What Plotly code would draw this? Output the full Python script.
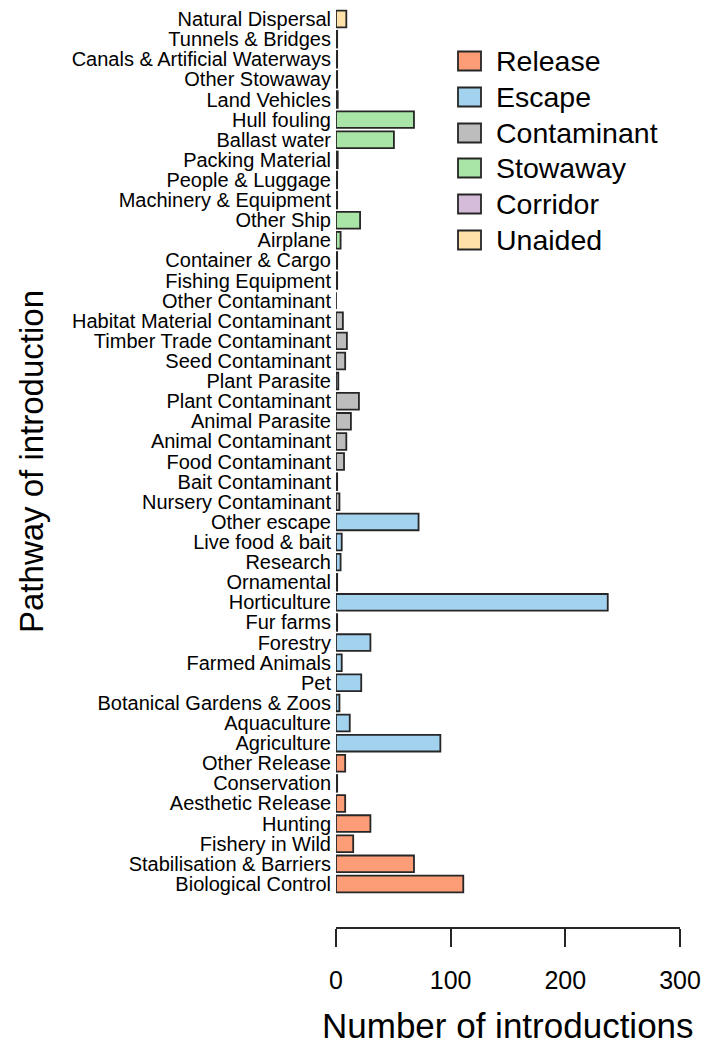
import plotly.graph_objects as go

# Categories listed from bottom to top, with their group and value
release_cats = ["Biological Control", "Stabilisation & Barriers", "Fishery in Wild", "Hunting",
                "Aesthetic Release", "Conservation", "Other Release"]
release_vals = [111, 68, 15, 30, 8, 1, 8]

escape_cats = ["Agriculture", "Aquaculture", "Botanical Gardens & Zoos", "Pet", "Farmed Animals",
               "Forestry", "Fur farms", "Horticulture", "Ornamental", "Research",
               "Live food & bait", "Other escape"]
escape_vals = [91, 12, 3, 22, 5, 30, 1, 237, 1, 4, 5, 72]

contaminant_cats = ["Nursery Contaminant", "Bait Contaminant", "Food Contaminant",
                    "Animal Contaminant", "Animal Parasite", "Plant Contaminant", "Plant Parasite",
                    "Seed Contaminant", "Timber Trade Contaminant", "Habitat Material Contaminant",
                    "Other Contaminant"]
contaminant_vals = [3, 1, 7, 9, 13, 20, 2, 8, 9.5, 6, 0]

stowaway_cats = ["Fishing Equipment", "Container & Cargo", "Airplane", "Other Ship",
                 "Machinery & Equipment", "People & Luggage", "Packing Material", "Ballast water",
                 "Hull fouling", "Land Vehicles", "Other Stowaway"]
stowaway_vals = [1, 1, 4, 21, 1, 1, 1.5, 50.5, 68, 1.5, 1]

corridor_cats = ["Canals & Artificial Waterways", "Tunnels & Bridges"]
corridor_vals = [1, 1]

unaided_cats = ["Natural Dispersal"]
unaided_vals = [9]

group_names = ["Release", "Escape", "Contaminant", "Stowaway", "Corridor", "Unaided"]
group_colors = ["#FC9D78", "#A3D2EF", "#BDBDBD", "#A9E5A6", "#D5BCDB", "#FDE1A9"]

groups = [
    (release_cats, release_vals),
    (escape_cats, escape_vals),
    (contaminant_cats, contaminant_vals),
    (stowaway_cats, stowaway_vals),
    (corridor_cats, corridor_vals),
    (unaided_cats, unaided_vals),
]

x_ticks = [0, 100, 200, 300]

FONT = "Liberation Sans, Arial, sans-serif"

all_cats = []
for cats, _ in groups:
    all_cats += cats

fig = go.Figure()
for (cats, vals), name, col in zip(groups, group_names, group_colors):
    fig.add_trace(go.Bar(
        y=cats, x=vals, orientation="h", name=name,
        marker=dict(color=col, line=dict(color="#262626", width=1.8)),
        width=0.83, cliponaxis=False, showlegend=False,
    ))

# page geometry (pixels); body margin is removed in the page so figure starts at 0,0
W, H = 706, 1051
PLOT_L, PLOT_R, PLOT_T, AXIS_Y, BARS_B = 336, 680, 9, 928, 894
L = PLOT_L
R = W - PLOT_R
T = PLOT_T
B = H - AXIS_Y
pw, ph = W - L - R, H - T - B


def px_x(px):
    return (px - PLOT_L) / pw


def px_y(py):
    return (AXIS_Y - py) / ph


# manual legend drawn in paper coordinates
row_centers = [61, 97, 133, 168, 204, 240]
shapes = []
annotations = []
for name, col, cy in zip(group_names, group_colors, row_centers):
    shapes.append(dict(type="rect", xref="paper", yref="paper",
                       x0=px_x(458), x1=px_x(481), y0=px_y(cy + 9.5), y1=px_y(cy - 9.5),
                       fillcolor=col, line=dict(color="#262626", width=1.8)))
    annotations.append(dict(xref="paper", yref="paper", x=px_x(494), y=px_y(cy),
                            xanchor="left", yanchor="middle", text=name, showarrow=False,
                            font=dict(family=FONT, size=28.5, color="black")))

annotations.append(dict(xref="paper", yref="paper", x=px_x(508), y=px_y(1025),
                        xanchor="center", yanchor="middle", text="Number of introductions",
                        showarrow=False, font=dict(family=FONT, size=35, color="black")))
annotations.append(dict(xref="paper", yref="paper", x=px_x(31), y=px_y(462),
                        xanchor="center", yanchor="middle", text="Pathway of introduction",
                        textangle=-90, showarrow=False,
                        font=dict(family=FONT, size=33, color="black")))

fig.update_layout(
    width=W, height=H,
    margin=dict(l=L, r=R, t=T, b=B, pad=0, autoexpand=False),
    paper_bgcolor="white", plot_bgcolor="white",
    barmode="relative",
    showlegend=False,
    shapes=shapes,
    annotations=annotations,
    font=dict(family=FONT, color="black"),
)

fig.update_xaxes(
    range=[0, 300], tickvals=x_ticks, ticktext=[str(v) for v in x_ticks],
    showgrid=False, zeroline=False, automargin=False,
    showline=True, linecolor="#262626", linewidth=2,
    ticks="outside", ticklen=18, tickwidth=2, tickcolor="#262626",
    tickfont=dict(family=FONT, size=25, color="black"),
    ticklabelstandoff=12,
    anchor="free", position=0,
)
fig.update_yaxes(
    categoryorder="array", categoryarray=all_cats,
    tickmode="array", tickvals=all_cats, ticktext=all_cats,
    range=[-0.5, len(all_cats) - 0.5],
    domain=[(AXIS_Y - BARS_B) / ph, 1],
    showgrid=False, zeroline=False, showline=False, ticks="", automargin=False,
    tickfont=dict(family=FONT, size=20, color="black"),
    ticklabelstandoff=4,
)

fig.write_html(
    "out.html",
    config={"displayModeBar": False},
    post_script="document.body.style.margin='0';document.body.style.overflow='hidden';",
)
